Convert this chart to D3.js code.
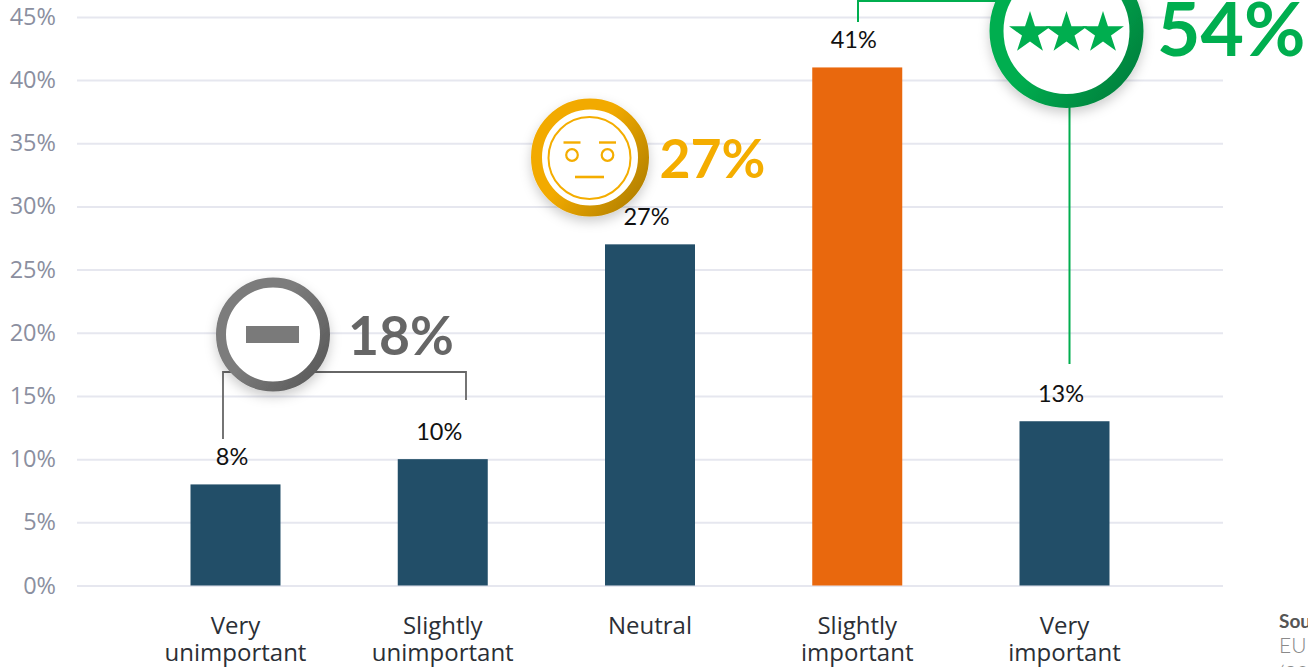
<!DOCTYPE html>
<html><head><meta charset="utf-8">
<script src="https://cdn.jsdelivr.net/npm/d3@7"></script>
<style>html,body{margin:0;padding:0;background:#fff;overflow:hidden}svg{display:block}</style>
</head><body><div id="c"></div>
<script>
const categories = ["Very unimportant","Slightly unimportant","Neutral","Slightly important","Very important"];
const categoryLines = [["Very","unimportant"],["Slightly","unimportant"],["Neutral"],["Slightly","important"],["Very","important"]];
const values = [8,10,27,41,13];
const yTicks = [0,5,10,15,20,25,30,35,40,45];
const barColors = ["#224e68","#224e68","#224e68","#e9680d","#224e68"];
const sourceLines = ["Source","EU consumers","(2021)"];

const W=1308,H=667;
const svg=d3.select("#c").append("svg").attr("width",W).attr("height",H);
const x=d3.scalePoint().domain(categories).range([235.5,1064.5]);
const y=d3.scaleLinear().domain([0,45]).range([585.5,16.9]);
const barW=90;

const defs=svg.append("defs");
const f=defs.append("filter").attr("id","sh").attr("x","-30%").attr("y","-30%").attr("width","160%").attr("height","160%");
f.append("feDropShadow").attr("dx",0).attr("dy",5).attr("stdDeviation",6).attr("flood-color","#000").attr("flood-opacity",0.2);
function grad(id,a,b){const g=defs.append("linearGradient").attr("id",id).attr("x1","0").attr("y1","0.1").attr("x2","1").attr("y2","0.8");
 g.append("stop").attr("offset","45%").attr("stop-color",a);g.append("stop").attr("offset","100%").attr("stop-color",b);}
grad("gGrey","#7b7b7b","#5c5c5c");grad("gGold","#f2aa00","#b58200");grad("gGreen","#00ae4f","#04823e");

// grid and axes
const yAxis=d3.axisLeft(y).tickValues(yTicks).tickFormat(d=>d+"%").tickSize(-1146).tickPadding(21);
const ga=svg.append("g").attr("transform","translate(77,0)").call(yAxis);
ga.select(".domain").remove();
ga.selectAll("line").attr("stroke","#e6e7ef").attr("stroke-width",2);
ga.selectAll("text").attr("font-family","'Open Sans'").attr("font-size",23.5).attr("fill","#8b8f9f");

// bars
svg.selectAll("rect.b").data(values).join("rect").attr("class","b")
 .attr("x",(d,i)=>x(categories[i])-barW/2).attr("y",d=>y(d)).attr("width",barW)
 .attr("height",d=>y(0)-y(d)).attr("fill",(d,i)=>barColors[i]);

// bar labels
svg.selectAll("text.v").data(values).join("text").attr("class","v")
 .attr("x",(d,i)=>x(categories[i])-(i==3?3.5:i==4?3.5:3.5)).attr("y",(d,i)=>y(d)-(i==1?19:19))
 .attr("text-anchor","middle").attr("font-family","'Lato'").attr("font-size",23.5).attr("fill","#111")
 .text(d=>d+"%");

// category labels
categoryLines.forEach((ls,i)=>{
 ls.forEach((l,j)=>svg.append("text").attr("x",x(categories[i])).attr("y",634+j*27)
  .attr("text-anchor","middle").attr("font-family","'Open Sans'").attr("font-size",24).attr("fill","#2b2f36").text(l));
});

// source
svg.selectAll("text.s").data(sourceLines).join("text").attr("class","s")
 .attr("x",1279).attr("y",(d,i)=>[628,653,681][i])
 .attr("font-family","'Lato'").attr("font-size",(d,i)=>i==0?19:21)
 .attr("font-weight",(d,i)=>i==0?700:300).attr("fill",(d,i)=>i==0?"#555":"#8a8a8a").text(d=>d);

// brackets
svg.append("path").attr("d","M223 439V372H466V400").attr("fill","none").attr("stroke","#666").attr("stroke-width",1.8);
svg.append("path").attr("d","M858 22V1H1010").attr("fill","none").attr("stroke","#00ae4f").attr("stroke-width",2);
svg.append("path").attr("d","M1069.5 100V364").attr("fill","none").attr("stroke","#00ae4f").attr("stroke-width",2);

// badges
function ring(cx,cy,r,w,g){
 svg.append("circle").attr("cx",cx).attr("cy",cy).attr("r",r-w/2).attr("fill","#fff").attr("stroke",`url(#${g})`).attr("stroke-width",w).attr("filter","url(#sh)");
}
ring(273,334.5,57,10,"gGrey");
svg.append("rect").attr("x",246).attr("y",326).attr("width",53).attr("height",17).attr("fill","#7a7a7a");
svg.append("text").attr("x",348).attr("y",355).attr("font-family","Lato").attr("font-weight",700).attr("font-size",53.5).attr("fill","#666").text("18%");

ring(590,157.5,59,11,"gGold");
const gold="#f4ad00";
svg.append("circle").attr("cx",589.5).attr("cy",158).attr("r",41).attr("fill","none").attr("stroke",gold).attr("stroke-width",2);
[572,607.5].forEach(cx=>{
 svg.append("circle").attr("cx",cx).attr("cy",155).attr("r",5.8).attr("fill","none").attr("stroke",gold).attr("stroke-width",2.2);
 svg.append("line").attr("x1",cx-8.5).attr("x2",cx+8.5).attr("y1",142.5).attr("y2",142.5).attr("stroke",gold).attr("stroke-width",2.4);
});
svg.append("line").attr("x1",575).attr("x2",604).attr("y1",177).attr("y2",177).attr("stroke",gold).attr("stroke-width",2.6);
svg.append("text").attr("x",659.5).attr("y",178).attr("font-family","Lato").attr("font-weight",700).attr("font-size",53.5).attr("fill",gold).text("27%");

ring(1066.5,31,77,14,"gGreen");
const star=d3.symbol().type(d3.symbolStar).size(545);
[1030,1066.5,1103].forEach(cx=>svg.append("path").attr("d",star()).attr("transform",`translate(${cx},33)`).attr("fill","#00ae4f"));
svg.append("text").attr("x",1157).attr("y",56).attr("font-family","Lato").attr("font-weight",700).attr("font-size",75).attr("fill","#00ae4f").text("54%");
</script></body></html>
